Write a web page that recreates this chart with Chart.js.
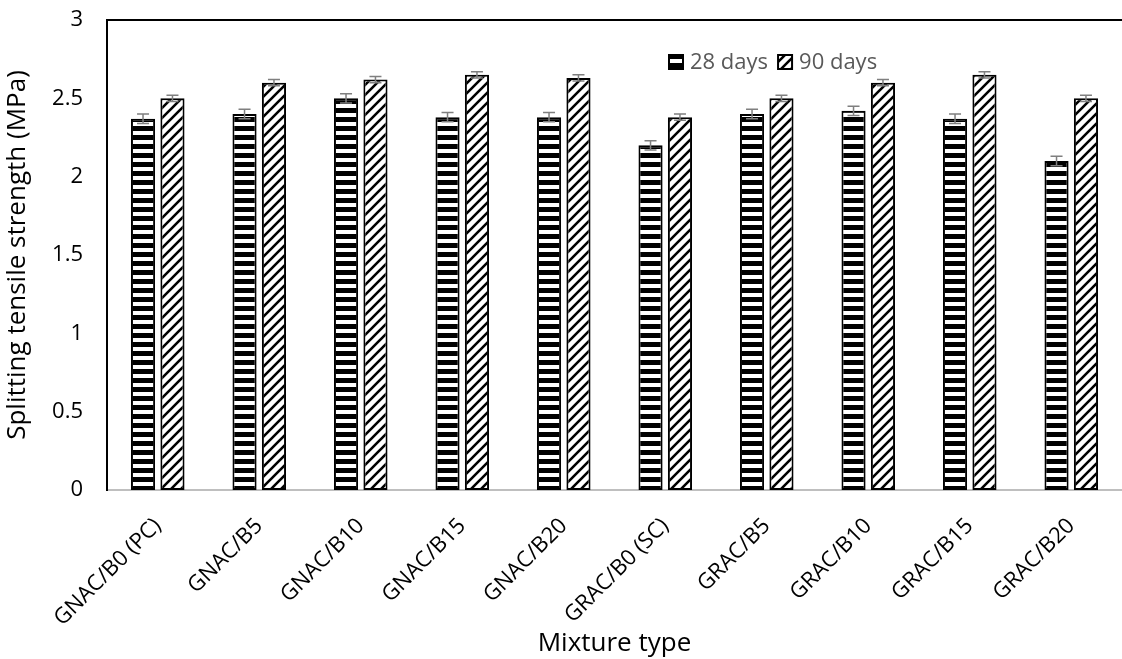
<!DOCTYPE html>
<html>
<head>
<meta charset="utf-8">
<script src="https://cdn.jsdelivr.net/npm/chart.js@4/dist/chart.umd.min.js"></script>
<style>
  body { margin: 0; background: #fff; }
  #chart { display: block; }
</style>
</head>
<body>
<canvas id="chart" width="1122" height="659"></canvas>
<script>
// chart data
const mixtures = ["GNAC/B0 (PC)", "GNAC/B5", "GNAC/B10", "GNAC/B15", "GNAC/B20",
  "GRAC/B0 (SC)", "GRAC/B5", "GRAC/B10", "GRAC/B15", "GRAC/B20"];
const days28 = [2.37, 2.40, 2.50, 2.38, 2.38, 2.20, 2.40, 2.42, 2.37, 2.10];
const days90 = [2.50, 2.60, 2.62, 2.65, 2.63, 2.38, 2.50, 2.60, 2.65, 2.50];
const err28 = [0.03, 0.03, 0.03, 0.03, 0.03, 0.03, 0.03, 0.03, 0.03, 0.03];
const err90 = [0.02, 0.02, 0.02, 0.02, 0.02, 0.02, 0.02, 0.02, 0.02, 0.02];
const yTicks = [0, 0.5, 1, 1.5, 2, 2.5, 3];

const FONT = "'Open Sans', 'Noto Sans', sans-serif";

// horizontal stripes: black with white lines
function stripePattern() {
  const c = document.createElement("canvas");
  c.width = 4; c.height = 9;
  const g = c.getContext("2d");
  g.fillStyle = "#000";
  g.fillRect(0, 0, 4, 9);
  g.fillStyle = "#fff";
  g.fillRect(0, 5, 4, 4);
  return g.createPattern(c, "repeat");
}

// diagonal lines going up to the right
function diagPattern() {
  const s = 10;
  const c = document.createElement("canvas");
  c.width = s; c.height = s;
  const g = c.getContext("2d");
  g.fillStyle = "#fff";
  g.fillRect(0, 0, s, s);
  g.strokeStyle = "#000";
  g.lineWidth = 2.6;
  g.beginPath();
  g.moveTo(0, s); g.lineTo(s, 0);
  g.moveTo(-2, 2); g.lineTo(2, -2);
  g.moveTo(s - 2, s + 2); g.lineTo(s + 2, s - 2);
  g.stroke();
  return g.createPattern(c, "repeat");
}

const patterns = [stripePattern(), diagPattern()];
const errors = [err28, err90];

// error bars drawn through the y scale
const errorBars = {
  id: "errorBars",
  afterDatasetsDraw(chart) {
    const ctx = chart.ctx;
    const y = chart.scales.y;
    ctx.save();
    ctx.strokeStyle = "#7f7f7f";
    ctx.lineWidth = 1.5;
    chart.data.datasets.forEach((ds, di) => {
      chart.getDatasetMeta(di).data.forEach((bar, i) => {
        const v = ds.data[i], e = errors[di][i];
        const top = y.getPixelForValue(v + e);
        const bot = y.getPixelForValue(v - e);
        ctx.beginPath();
        ctx.moveTo(bar.x, top); ctx.lineTo(bar.x, bot);
        ctx.moveTo(bar.x - 6, top); ctx.lineTo(bar.x + 6, top);
        ctx.moveTo(bar.x - 6, bot); ctx.lineTo(bar.x + 6, bot);
        ctx.stroke();
      });
    });
    ctx.restore();
  }
};

// top frame line and the legend inside the plot
const frameAndLegend = {
  id: "frameAndLegend",
  afterDraw(chart) {
    const ctx = chart.ctx;
    const a = chart.chartArea;
    ctx.save();
    ctx.strokeStyle = "#000";
    ctx.lineWidth = 2;
    ctx.beginPath();
    ctx.moveTo(a.left, a.top);
    ctx.lineTo(a.right, a.top);
    ctx.stroke();

    ctx.font = "22px " + FONT;
    ctx.textBaseline = "middle";
    let x = 669;
    const cy = 62;
    chart.data.datasets.forEach((ds, di) => {
      ctx.fillStyle = patterns[di];
      ctx.fillRect(x, cy - 7, 14, 14);
      ctx.lineWidth = 2;
      ctx.strokeStyle = "#000";
      ctx.strokeRect(x, cy - 7, 14, 14);
      ctx.fillStyle = "#595959";
      ctx.fillText(ds.label, x + 21, cy + 1);
      x += 21 + ctx.measureText(ds.label).width + 10;
    });
    ctx.restore();
  }
};

new Chart(document.getElementById("chart"), {
  type: "bar",
  data: {
    labels: mixtures,
    datasets: [
      { label: "28 days", data: days28, backgroundColor: patterns[0] },
      { label: "90 days", data: days90, backgroundColor: patterns[1] }
    ]
  },
  options: {
    responsive: false,
    animation: false,
    layout: { padding: { top: 20, right: 0, left: 0, bottom: 0 } },
    datasets: {
      bar: {
        borderColor: "#000",
        borderWidth: 2,
        borderSkipped: false,
        categoryPercentage: 0.58,
        barPercentage: 0.82
      }
    },
    plugins: {
      legend: { display: false },
      tooltip: { enabled: false }
    },
    scales: {
      x: {
        grid: { display: false },
        border: { color: "#bfbfbf", width: 2 },
        ticks: {
          color: "#000",
          font: { family: FONT, size: 22 },
          maxRotation: 45,
          minRotation: 45,
          padding: 15
        },
        title: {
          display: true,
          text: "Mixture type",
          color: "#000",
          font: { family: FONT, size: 26 },
          padding: { top: 0, bottom: 0 }
        },
        afterFit(scale) {
          scale.height = 169;
          scale.paddingLeft = 0;
          scale.paddingRight = 0;
        }
      },
      y: {
        min: 0,
        max: 3,
        afterBuildTicks(scale) { scale.ticks = yTicks.map(v => ({ value: v })); },
        grid: { display: false, drawTicks: false },
        border: { color: "#000", width: 2 },
        ticks: {
          color: "#000",
          font: { family: FONT, size: 22 },
          padding: 24,
          callback: v => String(v)
        },
        title: {
          display: true,
          text: "Splitting tensile strength (MPa)",
          color: "#000",
          font: { family: FONT, size: 26 },
          padding: { top: 2, bottom: 0 }
        },
        afterFit(scale) {
          scale.width = 107;
          scale.paddingTop = 0;
          scale.paddingBottom = 0;
        }
      }
    }
  },
  plugins: [errorBars, frameAndLegend]
});
</script>
</body>
</html>
